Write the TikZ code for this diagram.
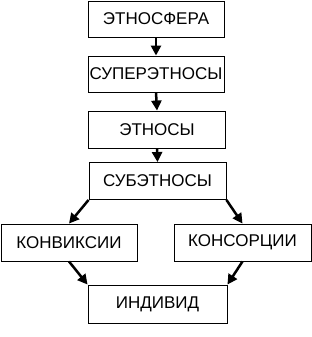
\documentclass[tikz,border=0pt]{standalone}
\usepackage{fontspec}
\setmainfont{Liberation Sans}
\usetikzlibrary{arrows.meta}
\begin{document}
\begin{tikzpicture}[x=1pt,y=-1pt,
  box/.style={draw,line width=0.9pt,inner sep=0pt,font=\fontsize{17}{17}\selectfont},
  arr/.style={line width=2.5pt,-{Triangle[length=10pt,width=10pt]}}]
\useasboundingbox (0,0) rectangle (312,337);
\node[box,minimum width=136pt,minimum height=36pt] (a) at (156,19) {ЭТНОСФЕРА};
\node[box,minimum width=136pt,minimum height=36pt] (b) at (156,74) {СУПЕРЭТНОСЫ};
\node[box,minimum width=137pt,minimum height=37pt] (c) at (157,129.5) {ЭТНОСЫ};
\node[box,minimum width=137pt,minimum height=37pt] (d) at (157.5,181) {СУБЭТНОСЫ};
\node[box,minimum width=136pt,minimum height=37pt] (e) at (69,242.5) {КОНВИКСИИ};
\node[box,minimum width=137pt,minimum height=37pt] (f) at (242.5,242.5) {КОНСОРЦИИ};
\node[box,minimum width=139pt,minimum height=38pt] (g) at (157.5,304) {ИНДИВИД};
\draw[arr] (a.south) -- (b.north);
\draw[arr] (b.south) -- (c.north);
\draw[arr] (c.south) -- (d.north);
\draw[arr] (d.south west) -- (e.north);
\draw[arr] (d.south east) -- (f.north);
\draw[arr] (e.south) -- (g.north west);
\draw[arr] (f.south) -- (g.north east);
\end{tikzpicture}
\end{document}
